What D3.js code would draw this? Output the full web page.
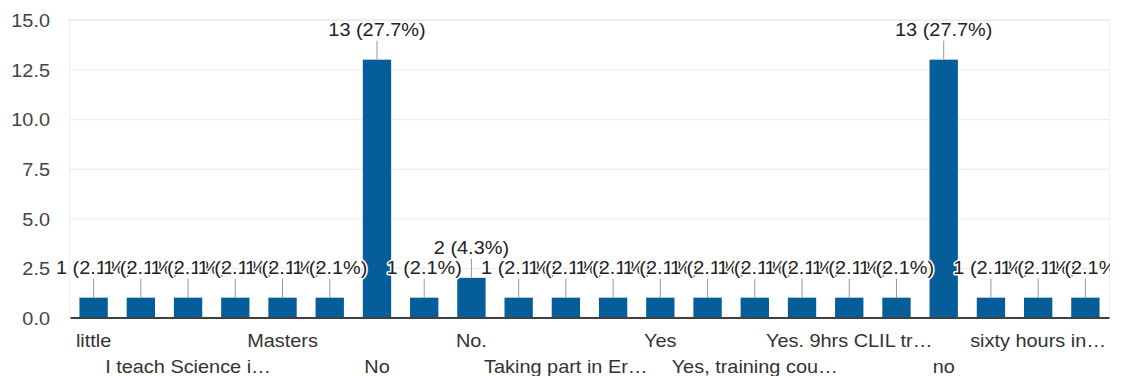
<!DOCTYPE html>
<html>
<head>
<meta charset="utf-8">
<script src="https://cdn.jsdelivr.net/npm/d3@7"></script>
<style>
  html, body { margin: 0; padding: 0; background: #fff; }
  svg { display: block; font-family: "Liberation Sans", Arial, sans-serif; }
</style>
</head>
<body>
<svg id="chart" width="1122" height="376"></svg>
<script>
// Survey answers (labels as they appear, truncated with an ellipsis)
const categories = [
  "little", "Just a seminar", "I teach Science i\u2026", "In-service course\u2026",
  "Masters", "Methodology cour\u2026", "No", "No, but I would li\u2026",
  "No.", "Online course", "Taking part in Er\u2026", "Two-week course i\u2026",
  "Yes", "Yes, a CLIL cours\u2026", "Yes, training cou\u2026", "Yes, in my degree",
  "Yes. 9hrs CLIL tr\u2026", "Yes. Online MOOC", "no", "not yet",
  "sixty hours in\u2026", "some workshops"
];
// Number of responses per answer
const counts = [1, 1, 1, 1, 1, 1, 13, 1, 2, 1, 1, 1, 1, 1, 1, 1, 1, 1, 13, 1, 1, 1];
// Value axis ticks
const yTicks = [0, 2.5, 5, 7.5, 10, 12.5, 15];

const total = d3.sum(counts);
const FONT = 18.6;      // text size
const SX = 1.07;        // horizontal text stretch

const svg = d3.select("#chart");
const plotLeft = 70, plotRight = 1109, plotTop = 20, plotBottom = 317.5;

const x = d3.scaleBand()
  .domain(d3.range(categories.length))
  .range([plotLeft, plotRight])
  .paddingInner(0.4)
  .paddingOuter(0.2);

const y = d3.scaleLinear().domain([0, 15]).range([plotBottom, plotTop]);

// plot frame
svg.append("rect")
  .attr("x", plotLeft - 0.5).attr("y", plotTop - 0.5)
  .attr("width", plotRight - plotLeft + 1).attr("height", plotBottom - plotTop)
  .attr("fill", "none").attr("stroke", "#f0f0f0");

// value axis with gridlines
const yAxis = svg.append("g")
  .attr("transform", `translate(${plotLeft},0)`)
  .call(d3.axisLeft(y)
    .tickValues(yTicks)
    .tickFormat(d3.format(".1f"))
    .tickSize(-(plotRight - plotLeft))
    .tickPadding(20));
yAxis.select(".domain").remove();
yAxis.selectAll(".tick line").attr("stroke", "#ebebeb");
yAxis.selectAll(".tick text")
  .attr("x", 0).attr("dy", "0.36em")
  .attr("transform", `translate(-20,0) scale(${SX},1)`)
  .attr("fill", "#444")
  .style("font-size", FONT + "px")
  .style("font-family", "'Liberation Sans', Arial, sans-serif");

// bars
svg.append("g").selectAll("rect")
  .data(counts)
  .join("rect")
  .attr("x", (d, i) => x(i))
  .attr("width", x.bandwidth())
  .attr("y", d => y(d))
  .attr("height", d => y(0) - y(d))
  .attr("fill", "#055e9a");

// category axis: every other label, alternating between two rows
const xAxis = svg.append("g")
  .attr("transform", `translate(0,${plotBottom})`)
  .call(d3.axisBottom(x)
    .tickSize(0)
    .tickSizeOuter(0)
    .tickFormat(i => (i % 2 === 0 ? categories[i] : "")));
xAxis.select(".domain").attr("stroke", "#404040").attr("stroke-width", 2);
xAxis.selectAll(".tick text")
  .attr("y", null).attr("dy", null)
  .attr("transform", i => `translate(0,${(i / 2) % 2 === 0 ? 29.2 : 55.8}) scale(${SX},1)`)
  .attr("fill", "#333")
  .style("font-size", FONT + "px")
  .style("font-family", "'Liberation Sans', Arial, sans-serif");

// value annotations with stems, clipped at the chart's right edge
svg.append("clipPath").attr("id", "annClip")
  .append("rect").attr("x", 0).attr("y", 0).attr("width", plotRight + 1).attr("height", 376);
const ann = svg.append("g").attr("clip-path", "url(#annClip)");
const cx = i => x(i) + x.bandwidth() / 2;

ann.selectAll("line")
  .data(counts)
  .join("line")
  .attr("x1", (d, i) => cx(i)).attr("x2", (d, i) => cx(i))
  .attr("y1", d => y(d)).attr("y2", d => y(d) - 19)
  .attr("stroke", "#999").attr("stroke-width", 1);

ann.selectAll("text")
  .data(counts)
  .join("text")
  .attr("text-anchor", "middle")
  .attr("transform", (d, i) => `translate(${cx(i)},${y(d) - 24}) scale(${SX},1)`)
  .attr("fill", "#222")
  .attr("stroke", "#fff")
  .attr("stroke-width", 3)
  .attr("stroke-linejoin", "round")
  .attr("paint-order", "stroke")
  .style("font-size", FONT + "px")
  .text(d => `${d} (${(d / total * 100).toFixed(1)}%)`);
</script>
</body>
</html>
